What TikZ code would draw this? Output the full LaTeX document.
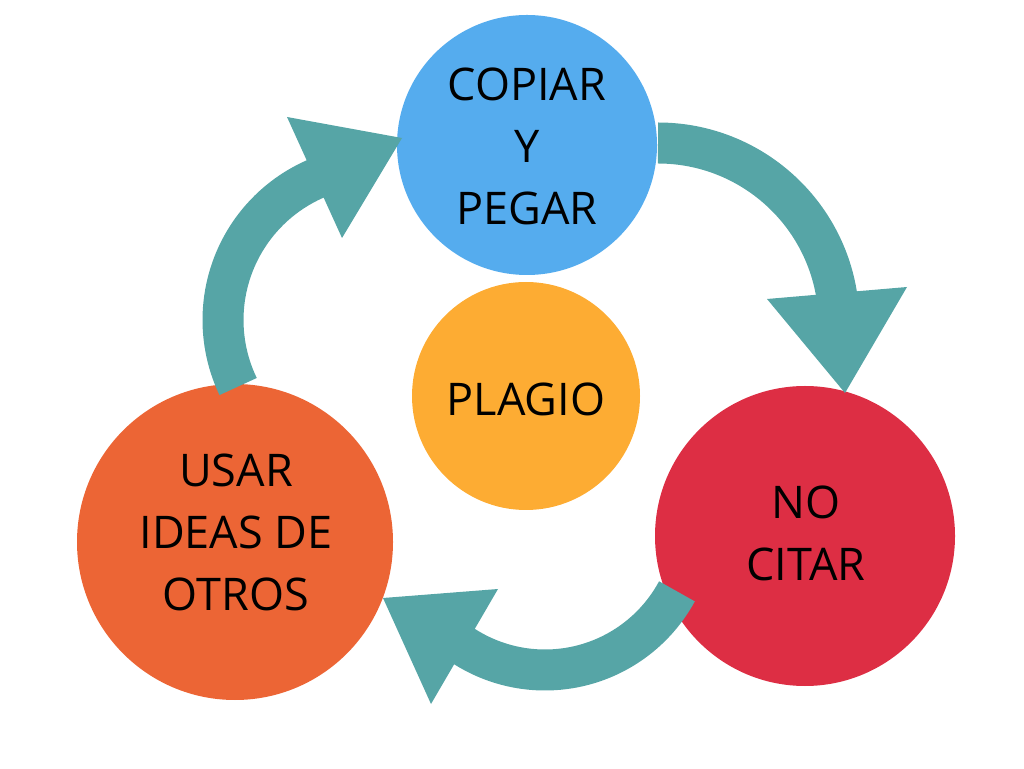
\documentclass[tikz,border=0pt]{standalone}
\usepackage{fontspec}
\setmainfont{Open Sans}
\usepackage{xcolor}
\definecolor{azul}{HTML}{55ACEE}
\definecolor{naranja}{HTML}{FDAC33}
\definecolor{rojo}{HTML}{DD2E44}
\definecolor{teja}{HTML}{EC6535}
\definecolor{verde}{HTML}{56A5A6}

\begin{document}
\begin{tikzpicture}[x=1pt,y=1pt,
  bola/.style={circle,inner sep=0pt},
  texto/.style={inner sep=0pt,align=center,font=\fontsize{45}{62}\selectfont},
  flecha/.style={draw=verde,line width=41pt}]
\useasboundingbox (0,0) rectangle (1024,768);

\node[bola,fill=azul,minimum size=260](1) at (527,623){};
\node[bola,fill=naranja,minimum size=228](2) at (526,372){};
\node[bola,fill=rojo,minimum size=300](3) at (805,232){};
\node[bola,fill=teja,minimum size=316](4) at (235,226){};
\node[texto](1t) at (527,622){COPIAR\\Y\\PEGAR};
\node[texto](2t) at (526,369){PLAGIO};
\node[texto](3t) at (806,235){NO\\CITAR};
\node[texto](4t) at (236,236){USAR\\IDEAS DE\\OTROS};

\coordinate(o1) at (658,444);
\coordinate(o2) at (545,248);
\coordinate(o3) at (377,448);
\coordinate(t1) at (845,375);
\coordinate(t2) at (383,170);
\coordinate(t3) at (402,630);

% 1 -> 3
\draw[flecha](o1) ++(90:181) arc (90:6:181);
\fill[verde](767,469)--(907,481)--(t1)--cycle;
% 3 -> 4
\draw[flecha](o2) ++(-28.4:150) arc (-28.4:-126:150);
\fill[verde](498,179)--(431,64)--(t2)--cycle;
% 4 -> 1
\draw[flecha](o3) ++(205.6:154) arc (205.6:110:154);
\fill[verde](287,651)--(342,530)--(t3)--cycle;
\end{tikzpicture}
\end{document}
